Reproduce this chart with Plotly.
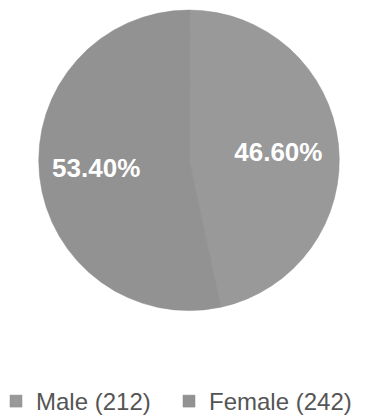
import plotly.graph_objects as go

# Data
categories = ["Male", "Female"]
counts = [212, 242]
percentages = [46.60, 53.40]
slice_colors = ["#999999", "#929292"]

legend_labels = [f"{c} ({n})" for c, n in zip(categories, counts)]
NB = "\u00a0"
# label padding nudges the in-slice labels outward like the reference
text_labels = [NB * 4 + f"{p:.2f}%" for p in percentages[:1]] + [f"{p:.2f}%" + NB * 5 for p in percentages[1:]]

fig = go.Figure(
    go.Pie(
        labels=legend_labels,
        values=percentages,
        text=text_labels,
        sort=False,
        direction="clockwise",
        rotation=0,
        marker=dict(colors=slice_colors, line=dict(color="#8a8a8a", width=0.5)),
        texttemplate="%{text}",
        textposition="inside",
        insidetextorientation="horizontal",
        textfont=dict(family="Liberation Sans, Arial, sans-serif", size=26, color="white", weight="bold"),
        domain=dict(x=[0.0, 0.955], y=[0.262, 0.995]),
        hoverinfo="label+percent",
    )
)

fig.update_layout(
    width=379,
    height=416,
    margin=dict(l=0, r=0, t=0, b=0),
    paper_bgcolor="white",
    plot_bgcolor="white",
    showlegend=True,
    legend=dict(
        orientation="h",
        x=0.0,
        xanchor="left",
        y=0.04,
        yanchor="middle",
        font=dict(family="Liberation Sans, Arial, sans-serif", size=24, color="#555555"),
        itemwidth=30,
        entrywidth=140,
        indentation=-12,
        tracegroupgap=0,
        traceorder="normal",
    ),
)

fig.write_html("out.html")
